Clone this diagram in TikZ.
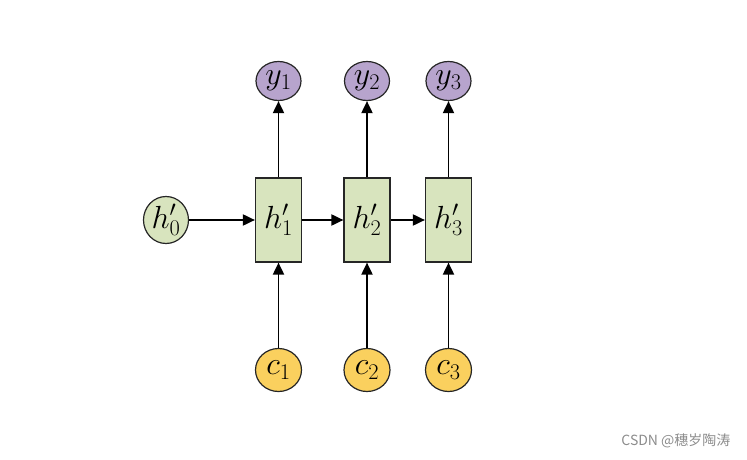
\RequirePackage{fix-cm}
\documentclass[tikz,border=0pt]{standalone}
\usepackage{fontspec}
\newfontfamily\cjkfont{Noto Sans CJK SC}
\usetikzlibrary{arrows.meta,positioning,shapes.geometric}
\definecolor{ypurple}{RGB}{183,164,205}
\definecolor{hgreen}{RGB}{216,228,190}
\definecolor{cyellow}{RGB}{250,208,94}
\tikzset{
  rnncell/.style={draw=black!85, line width=1.2pt, fill=hgreen, minimum width=46pt, minimum height=84pt, inner sep=0pt, font=\fontsize{32}{36}\selectfont},
  outnode/.style={ellipse, draw=black!85, line width=1.2pt, fill=ypurple, minimum width=45pt, minimum height=39pt, inner sep=0pt, font=\fontsize{32}{36}\selectfont},
  innode/.style={ellipse, draw=black!85, line width=1.2pt, fill=cyellow, minimum width=46pt, minimum height=43pt, inner sep=0pt, font=\fontsize{32}{36}\selectfont},
  initnode/.style={ellipse, draw=black!85, line width=1.2pt, fill=hgreen, minimum width=45pt, minimum height=47pt, inner sep=0pt, font=\fontsize{32}{36}\selectfont},
  rnnline/.style={-{Triangle[length=12pt,width=11pt]}, line width=1.9pt}
}
\begin{document}
\begin{tikzpicture}[x=1pt, y=-1pt]
  \useasboundingbox (0,0) rectangle (747,460);
  % hidden states
  \node[initnode] (h0) at (166,220) {$h'_0$};
  \node[rnncell] (h1) at (278.5,220) {$h'_1$};
  \node[rnncell] (h2) at (367,220) {$h'_2$};
  \node[rnncell] (h3) at (448.5,220) {$h'_3$};
  % outputs
  \node[outnode] (y1) at (278.5,81) {$y_1$};
  \node[outnode] (y2) at (367,81) {$y_2$};
  \node[outnode] (y3) at (448.5,81) {$y_3$};
  % inputs
  \node[innode] (c1) at (278.5,370) {$c_1$};
  \node[innode] (c2) at (367,370) {$c_2$};
  \node[innode] (c3) at (448.5,370) {$c_3$};
  \draw[rnnline] (h0) -- (h1);
  \draw[rnnline] (h1) -- (h2);
  \draw[rnnline] (h2) -- (h3);
  \foreach \i in {1,2,3} {
    \draw[rnnline] (c\i) -- (h\i);
    \draw[rnnline] (h\i) -- (y\i);
  }
  \node[text=black!45, font=\cjkfont\fontsize{14}{16}\selectfont, anchor=east] (mark) at (734,441) {CSDN @穗岁陶涛};
\end{tikzpicture}
\end{document}
